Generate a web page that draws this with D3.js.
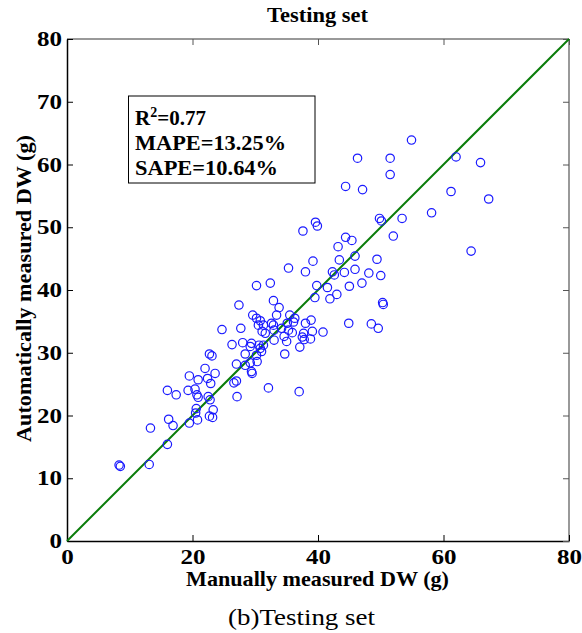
<!DOCTYPE html>
<html>
<head>
<meta charset="utf-8">
<script src="https://cdn.jsdelivr.net/npm/d3@7"></script>
<style>
  body { margin: 0; background: #fff; }
  text { font-family: "Liberation Serif", "Times New Roman", serif; }
</style>
</head>
<body>
<div class="d3"></div>
<script>
// manually measured DW (g) vs automatically measured DW (g), testing set
const manualDW = [
  54.9, 46.3, 51.5, 51.5, 62.0, 65.9, 44.4, 47.1, 61.2, 67.2,
  58.1, 53.4, 49.8, 50.1, 52.0, 44.4, 45.4, 43.2, 43.4, 45.9,
  49.4, 64.4, 39.2, 38.0, 42.3, 42.6, 44.2, 45.9, 48.1, 50.0,
  39.8, 41.5, 45.0, 47.0, 39.5, 41.9, 43.0, 50.3, 50.4, 37.6,
  39.6, 39.9, 38.0, 38.9, 44.9, 48.5, 49.6, 37.7, 39.1, 40.8,
  37.8, 38.8, 37.1, 37.0, 35.3, 30.2, 32.4, 27.4, 32.9, 33.8,
  33.4, 29.6, 30.2, 35.5, 30.8, 30.5, 31.3, 31.1, 31.6, 32.9,
  35.1, 36.1, 36.3, 35.3, 35.9, 34.2, 33.0, 37.5, 34.6, 35.0,
  33.0, 31.3, 30.6, 30.8, 31.0, 29.4, 29.2, 28.0, 28.4, 26.3,
  24.7, 27.7, 34.7, 30.3, 29.2, 29.5, 27.0, 28.4, 27.0, 26.6,
  27.1, 32.1, 22.7, 23.1, 22.0, 23.6, 19.5, 20.9, 22.4, 22.9,
  19.3, 20.4, 20.7, 20.9, 16.0, 17.4, 22.5, 22.8, 20.6, 20.5,
  23.3, 22.7, 23.2, 20.8, 19.5, 16.2, 16.9, 13.3, 16.0, 13.1,
  8.3, 8.5, 30.2, 32.6, 29.4
];
const autoDW = [
  63.9, 61.0, 61.0, 58.4, 61.2, 60.3, 56.5, 56.0, 55.7, 54.5,
  52.3, 51.4, 51.4, 51.0, 48.6, 48.4, 47.9, 46.9, 44.8, 45.4,
  44.9, 46.2, 44.6, 42.9, 42.9, 42.4, 42.8, 43.3, 42.7, 42.3,
  40.7, 40.4, 40.6, 41.1, 38.8, 38.6, 39.3, 38.0, 37.7, 49.4,
  50.8, 50.2, 34.7, 35.2, 34.7, 34.6, 33.9, 33.1, 33.4, 33.3,
  32.1, 32.2, 30.9, 23.8, 43.5, 40.7, 41.1, 37.6, 38.3, 37.2,
  36.0, 36.0, 35.5, 36.0, 35.1, 34.4, 34.4, 33.4, 33.1, 34.4,
  34.7, 34.9, 35.5, 33.6, 33.2, 33.9, 33.6, 32.5, 32.6, 31.8,
  32.0, 31.2, 31.2, 30.7, 30.2, 31.5, 31.0, 31.6, 29.8, 31.3,
  33.7, 33.9, 29.8, 28.6, 28.4, 26.7, 28.2, 28.0, 25.5, 25.2,
  23.0, 24.4, 29.8, 29.5, 27.5, 26.7, 26.3, 25.7, 25.9, 25.1,
  24.0, 24.2, 23.3, 22.9, 24.0, 23.3, 23.0, 22.5, 21.1, 20.4,
  20.9, 19.9, 19.7, 19.3, 18.8, 19.4, 18.4, 18.0, 15.4, 12.2,
  12.1, 11.9, 29.6, 34.7, 27.0
];
const xTicks = [0, 20, 40, 60, 80];
const yTicks = [0, 10, 20, 30, 40, 50, 60, 70, 80];
const statLines = ['=0.77', 'MAPE=13.25%', 'SAPE=10.64%'];

(() => {
  let width = 582;
  let height = 633;
  let left = 67, right = 569, top = 39, bottom = 541;

  let svg = d3
    .select('.d3')
    .append('svg')
    .attr('width', width)
    .attr('height', height);

  let x = d3.scaleLinear().domain([0, 80]).range([left, right]);
  let y = d3.scaleLinear().domain([0, 80]).range([bottom, top]);

  // frame
  svg.append('line')
    .attr('x1', left).attr('x2', right).attr('y1', top).attr('y2', top)
    .attr('stroke', '#777').attr('stroke-width', 1.5);
  svg.append('line')
    .attr('x1', right).attr('x2', right).attr('y1', top).attr('y2', bottom)
    .attr('stroke', '#777').attr('stroke-width', 1.5);

  let xAxis = svg.append('g')
    .attr('transform', `translate(0,${bottom})`)
    .call(d3.axisBottom(x).tickValues(xTicks).tickSizeInner(-6).tickSizeOuter(0).tickPadding(10));
  let xTop = svg.append('g')
    .attr('transform', `translate(0,${top})`)
    .call(d3.axisTop(x).tickValues(xTicks).tickSizeInner(-6).tickSizeOuter(0).tickFormat(''));
  let yAxis = svg.append('g')
    .attr('transform', `translate(${left},0)`)
    .call(d3.axisLeft(y).tickValues(yTicks).tickSizeInner(-6).tickSizeOuter(0).tickPadding(5));
  let yRight = svg.append('g')
    .attr('transform', `translate(${right},0)`)
    .call(d3.axisRight(y).tickValues(yTicks).tickSizeInner(-6).tickSizeOuter(0).tickFormat(''));

  xTop.select('.domain').remove();
  yRight.select('.domain').remove();
  xTop.selectAll('line').attr('stroke', '#555');
  yRight.selectAll('line').attr('stroke', '#555');

  [xAxis, yAxis].forEach(a => {
    a.select('.domain').attr('stroke', '#000').attr('stroke-width', 1.5);
    a.selectAll('text')
      .attr('font-family', '"Liberation Serif", serif')
      .attr('font-size', 21)
      .attr('font-weight', 'bold')
      .attr('fill', '#000')
      .attr('textLength', d => String(d).length * 12.5)
      .attr('lengthAdjust', 'spacingAndGlyphs');
  });
  xAxis.selectAll('text').attr('dy', '0.62em');

  // 1:1 line
  svg.append('line')
    .attr('x1', x(0)).attr('y1', y(0))
    .attr('x2', x(80)).attr('y2', y(80))
    .attr('stroke', '#0a7d0a')
    .attr('stroke-width', 2);

  // points
  svg.append('g')
    .selectAll('circle')
    .data(manualDW.map((m, i) => [m, autoDW[i]]))
    .enter()
    .append('circle')
    .attr('cx', d => x(d[0]))
    .attr('cy', d => y(d[1]))
    .attr('r', 4.2)
    .attr('fill', 'none')
    .attr('stroke', '#1a1aff')
    .attr('stroke-width', 1.2);

  // stats box
  svg.append('rect')
    .attr('x', 128.5).attr('y', 96)
    .attr('width', 186.5).attr('height', 87)
    .attr('fill', 'none')
    .attr('stroke', '#000')
    .attr('stroke-width', 1);

  let r2 = svg.append('text')
    .attr('x', 135).attr('y', 125)
    .attr('font-size', 21).attr('font-weight', 'bold');
  r2.append('tspan').text('R');
  r2.append('tspan').attr('font-size', 14).attr('dy', -8).text('2');
  r2.append('tspan').attr('dy', 8).text(statLines[0]);

  svg.append('text')
    .attr('x', 135).attr('y', 150)
    .attr('font-size', 21).attr('font-weight', 'bold')
    .attr('textLength', 151).attr('lengthAdjust', 'spacingAndGlyphs')
    .text(statLines[1]);
  svg.append('text')
    .attr('x', 135).attr('y', 175)
    .attr('font-size', 21).attr('font-weight', 'bold')
    .attr('textLength', 143).attr('lengthAdjust', 'spacingAndGlyphs')
    .text(statLines[2]);

  // titles
  svg.append('text')
    .attr('x', 267).attr('y', 22)
    .attr('font-size', 20).attr('font-weight', 'bold')
    .attr('textLength', 101).attr('lengthAdjust', 'spacingAndGlyphs')
    .text('Testing set');

  svg.append('text')
    .attr('x', 186).attr('y', 586)
    .attr('font-size', 21).attr('font-weight', 'bold')
    .attr('textLength', 263).attr('lengthAdjust', 'spacingAndGlyphs')
    .text('Manually measured DW (g)');

  svg.append('text')
    .attr('transform', 'translate(31,442) rotate(-90)')
    .attr('font-size', 21).attr('font-weight', 'bold')
    .attr('textLength', 307).attr('lengthAdjust', 'spacingAndGlyphs')
    .text('Automatically measured DW (g)');

  svg.append('text')
    .attr('x', 228).attr('y', 625)
    .attr('font-size', 24)
    .attr('textLength', 147).attr('lengthAdjust', 'spacingAndGlyphs')
    .text('(b)Testing set');
})();
</script>
</body>
</html>
